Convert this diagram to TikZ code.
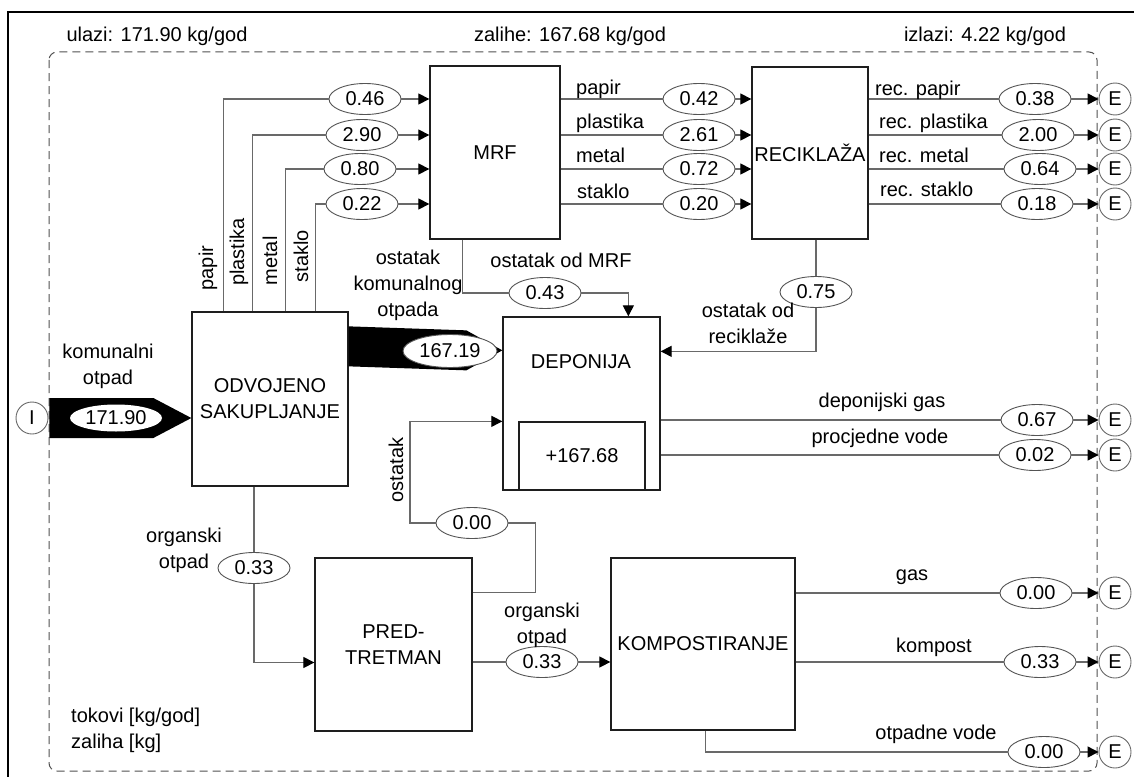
\documentclass[tikz,border=0pt]{standalone}
\usepackage{fontspec}
\setmainfont{Liberation Sans}
\usepackage{tikz}
\usetikzlibrary{shapes,arrows.meta,positioning,calc,shapes.geometric}
\definecolor{mygray}{RGB}{105,105,105}
\definecolor{myframe}{RGB}{30,30,30}
\definecolor{mydash}{RGB}{80,80,80}

\begin{document}
\begin{tikzpicture}[x=1pt, y=-1pt, font=\fontsize{20}{26}\selectfont,
  procbox/.style={draw=myframe, line width=1.3pt, align=center, inner sep=0pt},
  flowval/.style={draw=mygray!80!black, ellipse, fill=white, minimum width=72pt,
                  minimum height=31pt, inner sep=0pt, line width=0.9pt},
  sinknode/.style={draw=mygray, circle, fill=white, minimum size=32pt,
                   inner sep=0pt, line width=0.9pt},
  flowln/.style={draw=mygray, line width=1.2pt},
  flowar/.style={flowln, -{Triangle[length=11pt, width=11pt, color=black]}},
  lbl/.style={inner sep=0pt, align=center}]
  \useasboundingbox (0,0) rectangle (1134,776);

  % frames
  \draw[black, line width=2.5pt] (8,780) -- (8,12) -- (1140,12);
  \draw[mydash, line width=1pt, dash pattern=on 8pt off 5pt, rounded corners=8pt]
       (49,52) rectangle (1097,771);

  % processes
  \node[procbox, minimum width=130pt, minimum height=173pt] (mrf) at (495,152.5) {MRF};
  \node[procbox, minimum width=116pt, minimum height=172pt] (rec) at (810,153) {RECIKLAŽA};
  \node[procbox, minimum width=156pt, minimum height=174pt] (odv) at (270,399) {ODVOJENO\\SAKUPLJANJE};
  \node[procbox, minimum width=157pt, minimum height=173pt] (dep) at (581.5,403.5) {};
  \node[lbl] (deplbl) at (581,362) {DEPONIJA};
  \node[procbox, minimum width=126pt, minimum height=68pt] (stock) at (582,456) {+167.68};
  \node[procbox, minimum width=157pt, minimum height=173pt] (pre) at (393.5,644.5) {PRED-\\TRETMAN};
  \node[procbox, minimum width=184pt, minimum height=172pt] (kom) at (703,644) {KOMPOSTIRANJE};

  % import / export
  \node[sinknode] (src) at (32,418) {I};
  \node[sinknode] (e1) at (1115,99) {E};
  \node[sinknode] (e2) at (1115,135) {E};
  \node[sinknode] (e3) at (1115,169) {E};
  \node[sinknode] (e4) at (1115,204) {E};
  \node[sinknode] (e5) at (1115,420) {E};
  \node[sinknode] (e6) at (1115,455) {E};
  \node[sinknode] (e7) at (1115,593) {E};
  \node[sinknode] (e8) at (1115,662) {E};
  \node[sinknode] (e9) at (1115,752) {E};

  % main flows
  \fill[black] ($(src.east)+(1,-20)$) -- ($(odv.west |- src.east)+(-38,-20)$)
    -- (odv.west |- src.east) -- ($(odv.west |- src.east)+(-38,20)$)
    -- ($(src.east)+(1,20)$) -- cycle;
  \fill[black] ($(odv.north east)+(0,15)$) -- ($(dep.north west)+(-36,14)$)
    -- ($(dep.north west)+(0,34)$) -- ($(dep.north west)+(-36,54)$)
    -- ($(odv.north east)+(0,55)$) -- cycle;
  \node[flowval, draw=none, minimum width=92pt, minimum height=27pt] (v17190) at (116,418) {171.90};
  \node[flowval, minimum width=94pt, minimum height=33pt] (v16719) at (450,351) {167.19};

  % flow values
  \node[flowval] (v046) at (365,99) {0.46};
  \node[flowval] (v290) at (362,135) {2.90};
  \node[flowval] (v080) at (360,169) {0.80};
  \node[flowval] (v022) at (362,204) {0.22};
  \node[flowval] (v042) at (699,99) {0.42};
  \node[flowval] (v261) at (699,135) {2.61};
  \node[flowval] (v072) at (699,169) {0.72};
  \node[flowval] (v020) at (699,204) {0.20};
  \node[flowval] (v038) at (1035,99) {0.38};
  \node[flowval] (v200) at (1038,135) {2.00};
  \node[flowval] (v064) at (1040,169) {0.64};
  \node[flowval] (v018) at (1037,204) {0.18};
  \node[flowval] (v043) at (545,293) {0.43};
  \node[flowval] (v075) at (816,292) {0.75};
  \node[flowval] (v067) at (1037,420) {0.67};
  \node[flowval] (v002) at (1035,455) {0.02};
  \node[flowval] (vorg) at (254,568) {0.33};
  \node[flowval] (vost) at (472,523) {0.00};
  \node[flowval] (vpre) at (542,662) {0.33};
  \node[flowval] (vgas) at (1036,593) {0.00};
  \node[flowval] (vkom) at (1040,662) {0.33};
  \node[flowval] (vvod) at (1044,752) {0.00};

  % separate collection -> MRF
  \draw[flowln] ($(odv.north west)+(32,0)$) |- (v046.west);
  \draw[flowar] (v046) -- (mrf.west |- v046);
  \draw[flowln] ($(odv.north west)+(61,0)$) |- (v290.west);
  \draw[flowar] (v290) -- (mrf.west |- v290);
  \draw[flowln] ($(odv.north west)+(94,0)$) |- (v080.west);
  \draw[flowar] (v080) -- (mrf.west |- v080);
  \draw[flowln] ($(odv.north west)+(124,0)$) |- (v022.west);
  \draw[flowar] (v022) -- (mrf.west |- v022);

  % MRF -> recycling
  \draw[flowln] (mrf.east |- v042) -- (v042);
  \draw[flowar] (v042) -- (rec.west |- v042);
  \draw[flowln] (mrf.east |- v261) -- (v261);
  \draw[flowar] (v261) -- (rec.west |- v261);
  \draw[flowln] (mrf.east |- v072) -- (v072);
  \draw[flowar] (v072) -- (rec.west |- v072);
  \draw[flowln] (mrf.east |- v020) -- (v020);
  \draw[flowar] (v020) -- (rec.west |- v020);

  % recycling -> export
  \draw[flowln] (rec.east |- v038) -- (v038);
  \draw[flowar] (v038) -- (e1);
  \draw[flowln] (rec.east |- v200) -- (v200);
  \draw[flowar] (v200) -- (e2);
  \draw[flowln] (rec.east |- v064) -- (v064);
  \draw[flowar] (v064) -- (e3);
  \draw[flowln] (rec.east |- v018) -- (v018);
  \draw[flowar] (v018) -- (e4);

  % residues to landfill
  \draw[flowln] ($(mrf.south west)+(33,0)$) |- (v043);
  \draw[flowar] (v043) -| ($(dep.north west)+(126,0)$);
  \draw[flowln] (rec.south -| v075) -- (v075);
  \draw[flowar] (v075) |- ($(dep.north east)+(0,35)$);
  \draw[flowln] (dep.east |- v067) -- (v067);
  \draw[flowar] (v067) -- (e5);
  \draw[flowln] (dep.east |- v002) -- (v002);
  \draw[flowar] (v002) -- (e6);

  % organic branch
  \draw[flowln] (odv.south -| vorg) -- (vorg);
  \draw[flowar] (vorg) |- ($(pre.west)+(0,18)$);
  \draw[flowln] ($(pre.north east)+(0,35)$) -- ++(63,0) |- (vost);
  \draw[flowar] (vost) -- ++(-62,0) |- ($(dep.north west)+(0,105)$);
  \draw[flowln] (pre.east |- vpre) -- (vpre);
  \draw[flowar] (vpre) -- (kom.west |- vpre);
  \draw[flowln] (kom.east |- vgas) -- (vgas);
  \draw[flowar] (vgas) -- (e7);
  \draw[flowln] (kom.east |- vkom) -- (vkom);
  \draw[flowar] (vkom) -- (e8);
  \draw[flowln] ($(kom.south west)+(95,0)$) |- (vvod);
  \draw[flowar] (vvod) -- (e9);

  % labels
  \node[lbl] (tin) at (157,36) {ulazi: 171.90 kg/god};
  \node[lbl] (tstock) at (570,36) {zalihe: 167.68 kg/god};
  \node[lbl] (tout) at (985,36) {izlazi: 4.22 kg/god};
  \node[lbl] (lkom) at (108,366) {komunalni\\otpad};
  \node[lbl, rotate=90] (lpap) at (208,268) {papir};
  \node[lbl, rotate=90] (lpla) at (239,252) {plastika};
  \node[lbl, rotate=90] (lmet) at (270,261) {metal};
  \node[lbl, rotate=90] (lsta) at (301,256) {staklo};
  \node[lbl] (lres) at (408,285) {ostatak\\komunalnog\\otpada};
  \node[lbl] (lmrf) at (561,260) {ostatak od MRF};
  \node[lbl, anchor=west] (lp1) at (576,89) {papir};
  \node[lbl, anchor=west] (lp2) at (576,123) {plastika};
  \node[lbl, anchor=west] (lp3) at (576,155) {metal};
  \node[lbl, anchor=west] (lp4) at (577,191) {staklo};
  \node[lbl, anchor=west] (lr1) at (875,90) {rec. papir};
  \node[lbl, anchor=west] (lr2) at (879,123) {rec. plastika};
  \node[lbl, anchor=west] (lr3) at (879,155) {rec. metal};
  \node[lbl, anchor=west] (lr4) at (880,189) {rec. staklo};
  \node[lbl] (lrec) at (748,323) {ostatak od\\reciklaže};
  \node[lbl] (lgas) at (882,402) {deponijski gas};
  \node[lbl] (lvod) at (880,438) {procjedne vode};
  \node[lbl] (lorg) at (184,550) {organski\\otpad};
  \node[lbl, rotate=90] (lost) at (396,470) {ostatak};
  \node[lbl] (lorg2) at (542,625) {organski\\otpad};
  \node[lbl] (lkg) at (912,577) {gas};
  \node[lbl] (lkp) at (934,647) {kompost};
  \node[lbl] (lov) at (936,734) {otpadne vode};
  \node[lbl, align=left, anchor=west] (lunit) at (71,730) {tokovi [kg/god]\\zaliha [kg]};
\end{tikzpicture}
\end{document}
